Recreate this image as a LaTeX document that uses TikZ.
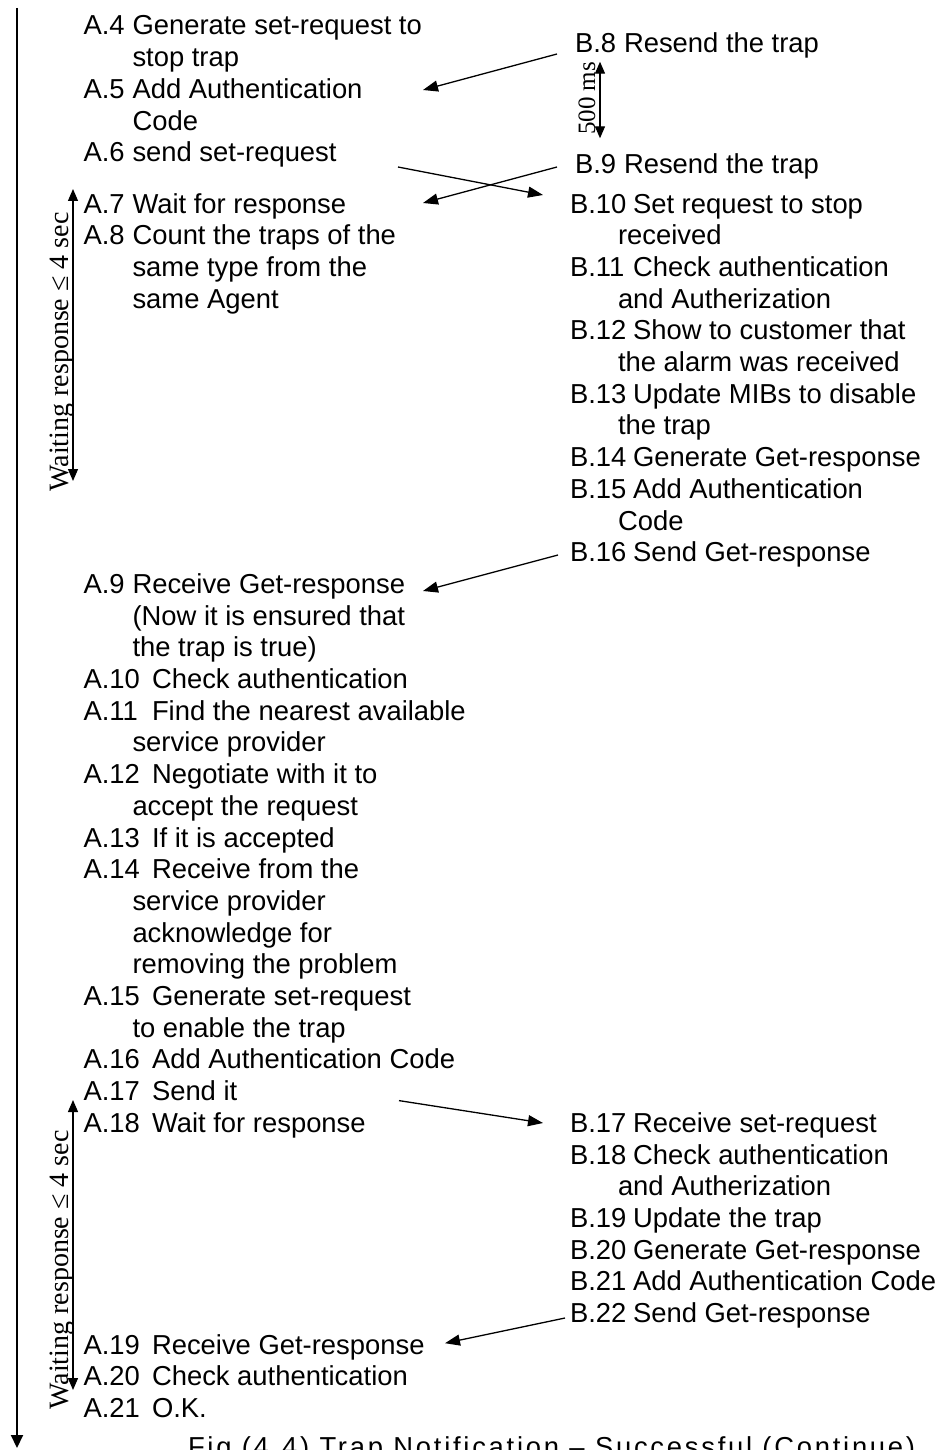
\documentclass[tikz,border=0pt]{standalone}
\usepackage{fontspec}
\setmainfont{Liberation Sans}
\newfontfamily\serifface{Liberation Serif}
\newfontfamily\captionface[LetterSpace=10]{Liberation Sans}
\usetikzlibrary{arrows.meta,calc}

\begin{document}
\begin{tikzpicture}[x=1pt,y=-1pt,
  every node/.style={inner sep=0pt,outer sep=0pt},
  lab/.style={anchor=base west,font=\fontsize{27.4}{31.7}\selectfont},
  txt/.style={anchor=base west,font=\fontsize{27.4}{31.7}\selectfont},
  span/.style={anchor=base,rotate=90,font=\serifface\fontsize{28}{30}\selectfont},
  msg/.style={line width=1.3pt,-{Triangle[length=15pt,width=11pt]}},
  dim/.style={line width=1.3pt,{Triangle[length=12pt,width=10pt]}-{Triangle[length=12pt,width=10pt]}},
  timeline/.style={line width=2pt,-{Triangle[length=13pt,width=12pt]}}]

\useasboundingbox (0,0) rectangle (939,1450);

% ---------- manager side (A) ----------
\node[lab] (a4) at (83.5,35) {A.4};
\node[txt] (a4t) at (132.5,35) {Generate set-request to};
\node[txt] (a4c) at (132.5,66.7) {stop trap};
\node[lab] (a5) at (83.5,98.4) {A.5};
\node[txt] (a5t) at (132.5,98.4) {Add Authentication};
\node[txt] (a5c) at (132.5,130.1) {Code};
\node[lab] (a6) at (83.5,161.8) {A.6};
\node[txt] (a6t) at (132.5,161.8) {send set-request};
\node[lab] (a7) at (83.5,213) {A.7};
\node[txt] (a7t) at (132.5,213) {Wait for response};
\node[lab] (a8) at (83.5,244.7) {A.8};
\node[txt] (a8t) at (132.5,244.7) {Count the traps of the};
\node[txt] (a8c) at (132.5,276.4) {same type from the};
\node[txt] (a8d) at (132.5,308.1) {same Agent};

\node[lab] (a9) at (83.5,593.4) {A.9};
\node[txt] (a9t) at (132.5,593.4) {Receive Get-response};
\node[txt] (a9c) at (132.5,625.1) {(Now it is ensured that};
\node[txt] (a9d) at (132.5,656.8) {the trap is true)};
\node[lab] (a10) at (83.5,688.5) {A.10};
\node[txt] (a10t) at (152,688.5) {Check authentication};
\node[lab] (a11) at (83.5,720.2) {A.11};
\node[txt] (a11t) at (152,720.2) {Find the nearest available};
\node[txt] (a11c) at (132.5,751.9) {service provider};
\node[lab] (a12) at (83.5,783.6) {A.12};
\node[txt] (a12t) at (152,783.6) {Negotiate with it to};
\node[txt] (a12c) at (132.5,815.3) {accept the request};
\node[lab] (a13) at (83.5,847) {A.13};
\node[txt] (a13t) at (152,847) {If it is accepted};
\node[lab] (a14) at (83.5,878.7) {A.14};
\node[txt] (a14t) at (152,878.7) {Receive from the};
\node[txt] (a14c) at (132.5,910.4) {service provider};
\node[txt] (a14d) at (132.5,942.1) {acknowledge for};
\node[txt] (a14e) at (132.5,973.8) {removing the problem};
\node[lab] (a15) at (83.5,1005.5) {A.15};
\node[txt] (a15t) at (152,1005.5) {Generate set-request};
\node[txt] (a15c) at (132.5,1037.2) {to enable the trap};
\node[lab] (a16) at (83.5,1068.9) {A.16};
\node[txt] (a16t) at (152,1068.9) {Add Authentication Code};
\node[lab] (a17) at (83.5,1100.6) {A.17};
\node[txt] (a17t) at (152,1100.6) {Send it};
\node[lab] (a18) at (83.5,1132.3) {A.18};
\node[txt] (a18t) at (152,1132.3) {Wait for response};
\node[lab] (a19) at (83.5,1354.2) {A.19};
\node[txt] (a19t) at (152,1354.2) {Receive Get-response};
\node[lab] (a20) at (83.5,1385.9) {A.20};
\node[txt] (a20t) at (152,1385.9) {Check authentication};
\node[lab] (a21) at (83.5,1417.6) {A.21};
\node[txt] (a21t) at (152,1417.6) {O.K.};

% ---------- agent side (B) ----------
\node[lab] (b8) at (575,53) {B.8};
\node[txt] (b8t) at (624,53) {Resend the trap};
\node[lab] (b9) at (575,174) {B.9};
\node[txt] (b9t) at (624,174) {Resend the trap};
\node[lab] (b10) at (570,213) {B.10};
\node[txt] (b10t) at (633,213) {Set request to stop};
\node[txt] (b10c) at (618,244.7) {received};
\node[lab] (b11) at (570,276.4) {B.11};
\node[txt] (b11t) at (633,276.4) {Check authentication};
\node[txt] (b11c) at (618,308.1) {and Autherization};
\node[lab] (b12) at (570,339.8) {B.12};
\node[txt] (b12t) at (633,339.8) {Show to customer that};
\node[txt] (b12c) at (618,371.5) {the alarm was received};
\node[lab] (b13) at (570,403.2) {B.13};
\node[txt] (b13t) at (633,403.2) {Update MIBs to disable};
\node[txt] (b13c) at (618,434.9) {the trap};
\node[lab] (b14) at (570,466.6) {B.14};
\node[txt] (b14t) at (633,466.6) {Generate Get-response};
\node[lab] (b15) at (570,498.3) {B.15};
\node[txt] (b15t) at (633,498.3) {Add Authentication};
\node[txt] (b15c) at (618,530) {Code};
\node[lab] (b16) at (570,561.7) {B.16};
\node[txt] (b16t) at (633,561.7) {Send Get-response};

\node[lab] (b17) at (570,1132.3) {B.17};
\node[txt] (b17t) at (633,1132.3) {Receive set-request};
\node[lab] (b18) at (570,1164) {B.18};
\node[txt] (b18t) at (633,1164) {Check authentication};
\node[txt] (b18c) at (618,1195.7) {and Autherization};
\node[lab] (b19) at (570,1227.4) {B.19};
\node[txt] (b19t) at (633,1227.4) {Update the trap};
\node[lab] (b20) at (570,1259.1) {B.20};
\node[txt] (b20t) at (633,1259.1) {Generate Get-response};
\node[lab] (b21) at (570,1290.8) {B.21};
\node[txt] (b21t) at (633,1290.8) {Add Authentication Code};
\node[lab] (b22) at (570,1322.5) {B.22};
\node[txt] (b22t) at (633,1322.5) {Send Get-response};

% ---------- time axis ----------
\coordinate (tltop) at (17,8);
\coordinate (tlend) at (17,1448);
\draw[timeline] (tltop) -- (tlend);

% ---------- waiting intervals ----------
\coordinate (w1top) at (73,189);
\coordinate (w1bot) at (73,481);
\draw[dim] (w1top) -- (w1bot);
\node[span] (w1lab) at (68,352) {Waiting response ≤ 4 sec};

\coordinate (w2top) at (73,1100);
\coordinate (w2bot) at (73,1390);
\draw[dim] (w2top) -- (w2bot);
\node[span] (w2lab) at (68,1270) {Waiting response ≤ 4 sec};

% ---------- resend interval ----------
\coordinate (rtop) at (600,61.7);
\coordinate (rbot) at (600,138.3);
\draw[dim] (rtop) -- (rbot);
\node[span,font=\serifface\fontsize{25}{27}\selectfont] (rlab) at (595,98.5) {500 ms};

% ---------- messages ----------
\draw[msg] ($(b8.base west)+(-18,1)$) -- ($(a5t.base west)+(290.5,-8.4)$);
\draw[msg] ($(a6t.base west)+(265.5,5.2)$) -- ($(b10.base west)+(-27,-18)$);
\draw[msg] ($(b9.base west)+(-18,-7)$) -- ($(a7t.base west)+(290.5,-10)$);
\draw[msg] ($(b16.base west)+(-12,-6.7)$) -- ($(a9t.base west)+(290.5,-2.4)$);
\draw[msg] ($(a17t.base west)+(247,0)$) -- ($(b17.base west)+(-27,-9.3)$);
\draw[msg] ($(b22.base west)+(-5,-4.5)$) -- ($(a19t.base west)+(293,-11)$);

% ---------- caption (runs past the lower page edge) ----------
\node[anchor=base west,font=\captionface\fontsize{27.4}{30}\selectfont] (cap) at (188,1456)
  {Fig (4.4) Trap Notification – Successful (Continue)};
\end{tikzpicture}
\end{document}
